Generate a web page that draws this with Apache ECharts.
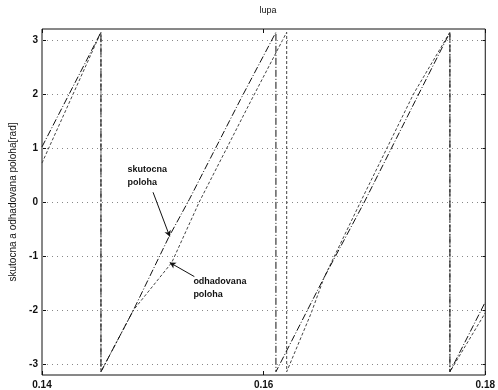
<!DOCTYPE html>
<html>
<head>
<meta charset="utf-8">
<script src="https://cdn.jsdelivr.net/npm/echarts@6/dist/echarts.min.js"></script>
<style>
  html, body { margin: 0; padding: 0; background: #fff; }
  #chart { width: 498px; height: 390px; }
</style>
</head>
<body>
<div id="chart"></div>
<script>
// Time samples [s] and angle [rad] for the true rotor position (sawtooth wrapped to ±π)
const tSkutocna = [0.14000, 0.14532, 0.14532, 0.14825, 0.15144, 0.15330, 0.15792, 0.16111,
                   0.16111, 0.16395, 0.16545, 0.16909, 0.17388, 0.17681,
                   0.17681, 0.18000];
const ySkutocna = [1.02, 3.14, -3.14, -2.00, -0.65, 0.05, 1.90, 3.14,
                   -3.14, -2.00, -1.40, 0.00, 1.95, 3.14,
                   -3.14, -1.85];

// Time samples [s] and angle [rad] for the estimated rotor position
const tOdhad = [0.14000, 0.14532, 0.14532, 0.14825, 0.15171, 0.15419, 0.15880, 0.16208,
                0.16208, 0.16430, 0.16545, 0.16874, 0.17353, 0.17681,
                0.17681, 0.18000];
const yOdhad = [0.72, 3.14, -3.14, -2.00, -1.12, 0.00, 1.85, 3.14,
                -3.14, -2.05, -1.40, 0.00, 2.00, 3.14,
                -3.14, -2.05];

// Axis ticks
const xTicks = [0.14, 0.16, 0.18];
const yTicks = [-3, -2, -1, 0, 1, 2, 3];

// Annotation anchors in data coordinates: text corner, arrow start, arrow tip
const noteSkutocna = { text: 'skutocna\npoloha', at: [0.14772, 0.72], from: [0.15002, 0.18], to: [0.15153, -0.64] };
const noteOdhad = { text: 'odhadovana\npoloha', at: [0.15366, -1.35], from: [0.15375, -1.38], to: [0.15153, -1.12] };

const zip = (a, b) => a.map((v, i) => [v, b[i]]);

const FONT = 'Liberation Sans, Arial, sans-serif';
const chart = echarts.init(document.getElementById('chart'), null, { renderer: 'canvas' });

const axisLabelStyle = { color: '#111', fontSize: 10, fontWeight: 'bold', fontFamily: FONT };
const tickStyle = { inside: true, length: 4, lineStyle: { color: '#111' } };

const option = {
  animation: false,
  backgroundColor: '#fff',
  title: {
    text: 'lupa',
    left: 263, top: 1,
    textAlign: 'center',
    textStyle: { fontSize: 9, fontWeight: 'normal', color: '#111', fontFamily: FONT }
  },
  grid: {
    left: 38, right: 9, top: 29, bottom: 13,
    show: true, borderColor: '#111', borderWidth: 1, backgroundColor: 'transparent'
  },
  xAxis: [{
    type: 'value', min: 0.14, max: 0.18, interval: 0.02, position: 'bottom',
    axisLine: { show: false, onZero: false },
    axisTick: tickStyle,
    axisLabel: { ...axisLabelStyle, margin: 5, formatter: v => v.toFixed(2),
                 customValues: xTicks },
    splitLine: { show: false }
  }, {
    type: 'value', position: 'top', min: 0.14, max: 0.18, interval: 0.02,
    axisLine: { show: false, onZero: false },
    axisTick: tickStyle,
    axisLabel: { show: false },
    splitLine: { show: false }
  }],
  yAxis: [{
    type: 'value', min: -3.2, max: 3.2, position: 'left',
    name: 'skutocna a odhadovana poloha[rad]',
    nameLocation: 'middle', nameGap: 24,
    nameTextStyle: { fontSize: 10, color: '#111', fontFamily: FONT },
    axisLine: { show: false, onZero: false },
    axisTick: { ...tickStyle, customValues: yTicks },
    axisLabel: { ...axisLabelStyle, margin: 4, customValues: yTicks },
    splitLine: { show: false }
  }, {
    type: 'value', min: -3.2, max: 3.2, position: 'right',
    axisLine: { show: false, onZero: false },
    axisTick: { ...tickStyle, customValues: yTicks },
    axisLabel: { show: false, customValues: yTicks },
    splitLine: { show: false }
  }],
  series: [
    {
      // horizontal dotted grid at each y tick
      type: 'line', data: [], silent: true,
      markLine: {
        silent: true, symbol: 'none', animation: false,
        label: { show: false },
        lineStyle: { color: '#888', width: 1, type: [1, 4] },
        data: yTicks.map(v => ({ yAxis: v }))
      }
    },
    {
      name: 'odhadovana poloha', type: 'line', showSymbol: false,
      data: zip(tOdhad, yOdhad),
      lineStyle: { color: '#444', width: 1, type: [3, 2] }
    },
    {
      name: 'skutocna poloha', type: 'line', showSymbol: false,
      data: zip(tSkutocna, ySkutocna),
      lineStyle: { color: '#111', width: 1, type: [7, 2, 1, 2] },
      markLine: {
        silent: true, animation: false,
        symbol: ['none', 'arrow'], symbolSize: [5, 6],
        label: { show: false },
        lineStyle: { color: '#111', width: 1, type: 'solid' },
        data: [
          [{ coord: noteSkutocna.from }, { coord: noteSkutocna.to }],
          [{ coord: noteOdhad.from }, { coord: noteOdhad.to }]
        ]
      }
    }
  ]
};
chart.setOption(option);

// Annotation labels placed at data coordinates
function noteText(note) {
  const p = chart.convertToPixel({ gridIndex: 0 }, note.at);
  return {
    type: 'text', x: p[0], y: p[1], silent: true,
    style: { text: note.text, fill: '#111', fontSize: 9, fontWeight: 'bold', fontFamily: FONT,
             lineHeight: 13, textVerticalAlign: 'top' }
  };
}
chart.setOption({ graphic: [noteText(noteSkutocna), noteText(noteOdhad)] });
</script>
</body>
</html>
